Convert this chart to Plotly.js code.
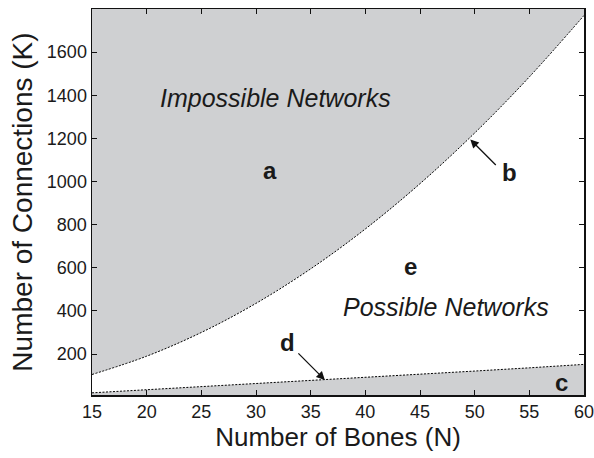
<!DOCTYPE html>
<html>
<head>
<meta charset="utf-8">
<script src="https://cdn.plot.ly/plotly-3.0.1.min.js"></script>
<style>html,body{margin:0;padding:0;background:#fff;}#chart{width:594px;height:458px;}</style>
</head>
<body>
<div id="chart"></div>
<script>
// Number of bones N
const bones = [15, 20, 25, 30, 35, 40, 45, 50, 55, 60];
// Upper bound of connections (maximum, fully connected)
const upperK = [105, 190, 300, 435, 595, 780, 990, 1225, 1485, 1770];
// Lower bound of connections
const lowerK = [20, 34, 48, 63, 77, 92, 106, 121, 136, 152];
// Top of the plotted region (for the shaded impossible area)
const ceilingK = [1800, 1800, 1800, 1800, 1800, 1800, 1800, 1800, 1800, 1800];
const xTicks = [15, 20, 25, 30, 35, 40, 45, 50, 55, 60];
const yTicks = [200, 400, 600, 800, 1000, 1200, 1400, 1600];

const gray = '#cfd0d2';
const font = 'Liberation Sans, Arial, Helvetica, sans-serif';

const traces = [
  {x: bones, y: ceilingK, mode: 'lines', line: {width: 0, color: gray}, hoverinfo: 'skip', showlegend: false},
  {x: bones, y: upperK, mode: 'lines', fill: 'tonexty', fillcolor: gray,
   line: {color: '#000', width: 1, dash: '2px,1.5px', shape: 'spline'}, showlegend: false},
  {x: bones, y: lowerK, mode: 'lines', fill: 'tozeroy', fillcolor: gray,
   line: {color: '#000', width: 1, dash: '2px,1.5px'}, showlegend: false}
];

const bold = {family: font, size: 24, color: '#1a1a1a', weight: 'bold'};
const ital = {family: font, size: 25, color: '#1a1a1a', style: 'italic'};

const annotations = [
  {x: 31.8, y: 1387, text: '<i>Impossible Networks</i>', showarrow: false, font: ital},
  {x: 47.4, y: 418, text: '<i>Possible Networks</i>', showarrow: false, font: ital},
  {x: 31.3, y: 1049, text: '<b>a</b>', showarrow: false, font: bold},
  {x: 53.2, y: 1040, text: '<b>b</b>', showarrow: false, font: bold},
  {x: 57.9, y: 68, text: '<b>c</b>', showarrow: false, font: bold},
  {x: 32.9, y: 252, text: '<b>d</b>', showarrow: false, font: bold},
  {x: 44.1, y: 606, text: '<b>e</b>', showarrow: false, font: bold},
  {x: 49.6, y: 1195, text: '', showarrow: true, ax: 27, ay: 27, arrowhead: 2, arrowsize: 1.3, arrowwidth: 1.3, arrowcolor: '#111', standoff: 0},
  {x: 36.3, y: 80, text: '', showarrow: true, ax: -28, ay: -28, arrowhead: 2, arrowsize: 1.3, arrowwidth: 1.3, arrowcolor: '#111', standoff: 0}
];

const axisCommon = {
  showline: true, linecolor: '#111', linewidth: 1.5, mirror: 'ticks',
  ticks: 'inside', ticklen: 5, tickwidth: 1, tickcolor: '#111',
  showgrid: false, zeroline: false, ticklabeloverflow: 'allow',
  tickfont: {family: font, size: 18, color: '#1a1a1a'}
};

const layout = {
  width: 594, height: 458,
  margin: {l: 92, r: 10, t: 9, b: 63},
  paper_bgcolor: '#fff', plot_bgcolor: '#fff',
  showlegend: false,
  xaxis: Object.assign({}, axisCommon, {
    range: [15, 60], tickvals: xTicks, ticktext: xTicks.map(String),
    automargin: false,
    title: {text: 'Number of Bones (N)', font: {family: font, size: 26, color: '#1a1a1a'}, standoff: 4}
  }),
  yaxis: Object.assign({}, axisCommon, {
    range: [10, 1800], tickvals: yTicks, ticktext: yTicks.map(String),
    automargin: false,
    title: {text: 'Number of Connections (K)', font: {family: font, size: 28, color: '#1a1a1a'}, standoff: 6}
  }),
  annotations: annotations
};

Plotly.newPlot('chart', traces, layout, {displayModeBar: false, staticPlot: true});
</script>
</body>
</html>
